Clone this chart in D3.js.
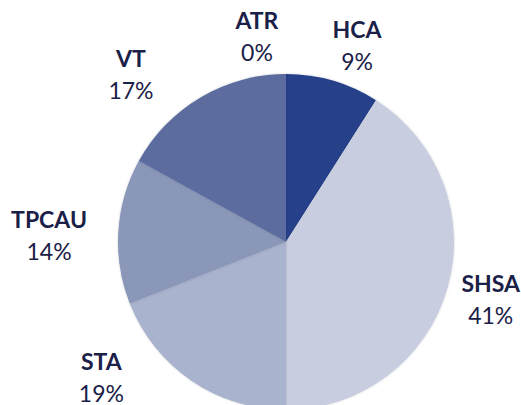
<!DOCTYPE html>
<html lang="en">
<head>
<meta charset="utf-8">
<title>Share by category</title>
<script src="https://cdn.jsdelivr.net/npm/d3@7"></script>
<style>
  body { margin: 0; background: #fff; }
  text { font-family: Lato, "Open Sans", sans-serif; fill: #1a2047; }
  .name { font-weight: bold; font-size: 23px; }
  .pct { font-size: 23px; }
</style>
</head>
<body>
<div id="chart"></div>
<script>
// slice data, clockwise from 12 o'clock
const categories = ["HCA", "SHSA", "STA", "TPCAU", "VT", "ATR"]
const values = [9, 41, 19, 14, 17, 0]
const colors = ["#25418a", "#c8cee0", "#a9b3cd", "#8a97b9", "#5b6c9e", "#3d528f"]

// where each label sits (degrees clockwise from top, distance from centre)
const labelAngle = [20.7, 107.8, 232.1, 269.4, 315.7, 351.6]
const labelDist = [201, 215, 234, 237, 222, 199]

let width = 521
let height = 405
let cx = 286
let cy = 242
let radius = 168

let svg = d3.select("#chart").append("svg")
  .attr("width", width)
  .attr("height", height)

let defs = svg.append("defs")
let shadow = defs.append("filter").attr("id", "soft")
  .attr("x", "-10%").attr("y", "-10%").attr("width", "120%").attr("height", "120%")
shadow.append("feDropShadow")
  .attr("dx", 0).attr("dy", 0)
  .attr("stdDeviation", 1.2)
  .attr("flood-color", "#000")
  .attr("flood-opacity", 0.18)

let data = categories.map((c, i) => ({ name: c, value: values[i], color: colors[i] }))

let pie = d3.pie()
  .value(d => d.value)
  .sort(null)

let arc = d3.arc()
  .innerRadius(0)
  .outerRadius(radius)

let g = svg.append("g")
  .attr("transform", "translate(" + cx + "," + cy + ")")

g.selectAll("path")
  .data(pie(data).filter(d => d.data.value > 0))
  .enter()
  .append("path")
    .attr("d", arc)
    .attr("fill", d => d.data.color)
    .attr("filter", "url(#soft)")

let labels = g.selectAll(".label")
  .data(data)
  .enter()
  .append("g")
    .attr("class", "label")
    .attr("transform", (d, i) => {
      let a = labelAngle[i] * Math.PI / 180
      return "translate(" + (labelDist[i] * Math.sin(a)) + "," + (-labelDist[i] * Math.cos(a)) + ")"
    })

labels.append("text")
  .attr("class", "name")
  .attr("text-anchor", "middle")
  .attr("y", -16)
  .text(d => d.name)

labels.append("text")
  .attr("class", "pct")
  .attr("text-anchor", "middle")
  .attr("y", 16)
  .text(d => d.value + "%")
</script>
</body>
</html>
